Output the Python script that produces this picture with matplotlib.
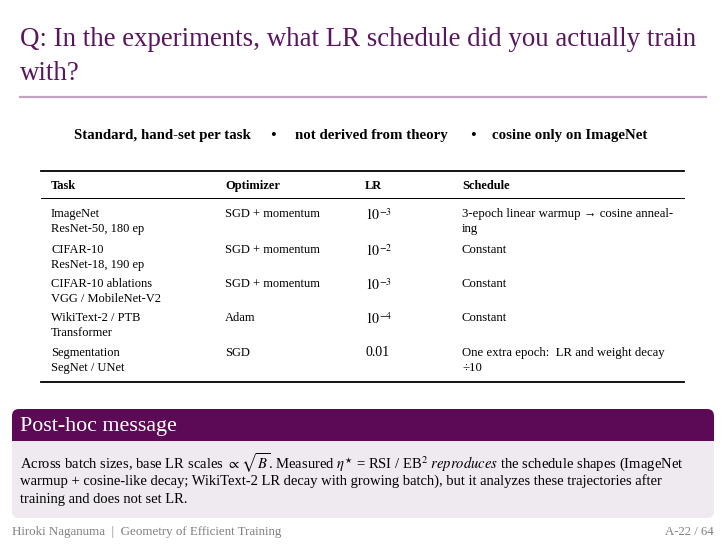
import matplotlib.pyplot as plt
from matplotlib.patches import FancyBboxPatch, Rectangle

plt.rcParams['font.family'] = ['Liberation Serif', 'DejaVu Serif']
plt.rcParams['mathtext.fontset'] = 'stix'

W, H = 726, 544

# slide content
title_lines = ["Q: In the experiments, what LR schedule did you actually train", "with?"]
summary = ["Standard, hand-set per task", "not derived from theory", "cosine only on ImageNet"]

columns = ["Task", "Optimizer", "LR", "Schedule"]
tasks = ["ImageNet\nResNet-50, 180 ep", "CIFAR-10\nResNet-18, 190 ep",
         "CIFAR-10 ablations\nVGG / MobileNet-V2", "WikiText-2 / PTB\nTransformer",
         "Segmentation\nSegNet / UNet"]
optimizers = ["SGD + momentum", "SGD + momentum", "SGD + momentum", "Adam", "SGD"]
lrs = [r"$10^{-3}$", r"$10^{-2}$", r"$10^{-3}$", r"$10^{-4}$", "0.01"]
schedules = [u"3-epoch linear warmup \u2192 cosine anneal-\ning", "Constant", "Constant", "Constant",
             u"One extra epoch:  LR and weight decay\n\u00f710"]

block_title = "Post-hoc message"
block_lines = [r"Across batch sizes, base LR scales $\propto\,\sqrt{B}$. Measured $\eta^{\star}$ = RSI / EB$^{2}$ $\mathit{reproduces}$ the schedule shapes (ImageNet",
               "warmup + cosine-like decay; WikiText-2 LR decay with growing batch), but it analyzes these trajectories after",
               "training and does not set LR."]

footer_left = "Hiroki Naganuma  |  Geometry of Efficient Training"
footer_right = "A-22 / 64"

purple = "#5c0a55"
title_col = "#5a1560"

fig = plt.figure(figsize=(W / 100, H / 100), dpi=100)
ax = fig.add_axes([0, 0, 1, 1])
ax.set_xlim(0, W)
ax.set_ylim(H, 0)
ax.axis('off')

# title
for i, line in enumerate(title_lines):
    ax.text(20, 40 + i * 33, line, fontsize=19.4, color=title_col, va='center', ha='left')
ax.plot([20, 706], [97, 97], color="#c2a4c2", lw=1.6)

# summary line
xs = [162, 371, 570]
for x, s in zip(xs, summary):
    ax.text(x, 136, s, fontsize=10.7, fontweight='bold', ha='center', va='center')
for x in [273, 473]:
    ax.text(x, 136, u"\u2022", fontsize=12, ha='center', va='center')

# table
col_x = [51, 225, 365, 462]
ax.plot([41, 684], [171, 171], color='black', lw=1.3)
ax.plot([41, 684], [198, 198], color='black', lw=0.7)
ax.plot([41, 684], [382, 382], color='black', lw=1.3)
for x, c in zip(col_x, columns):
    ax.text(x, 186, c, fontsize=9, fontweight='bold', va='center')

row_y = [213, 249, 283, 317, 352]
for i, y in enumerate(row_y):
    ax.text(col_x[0], y - 5, tasks[i], fontsize=9, va='top', linespacing=1.3)
    ax.text(col_x[1], y - 5, optimizers[i], fontsize=9, va='top')
    ax.text(col_x[2], y - 6, lrs[i], fontsize=10, va='top')
    ax.text(col_x[3], y - 5, schedules[i], fontsize=9.2, va='top', linespacing=1.3)

# block
ax.add_patch(FancyBboxPatch((12, 409), 702, 109, boxstyle="round,pad=0,rounding_size=7",
                            fc="#efe9f0", ec='none'))
ax.add_patch(FancyBboxPatch((12, 409), 702, 32, boxstyle="round,pad=0,rounding_size=7",
                            fc=purple, ec='none'))
ax.add_patch(Rectangle((12, 428), 702, 13, fc=purple, ec='none'))
ax.text(20, 426, block_title, fontsize=15.8, color='white', va='center')
for i, line in enumerate(block_lines):
    ax.text(20, 463 + i * 18.5, line, fontsize=10.5, va='center')

# footer
ax.text(12, 532, footer_left, fontsize=9.4, color="#808080", va='center')
ax.text(714, 532, footer_right, fontsize=9.2, color="#808080", va='center', ha='right')

fig.savefig("out.png", dpi=100)
